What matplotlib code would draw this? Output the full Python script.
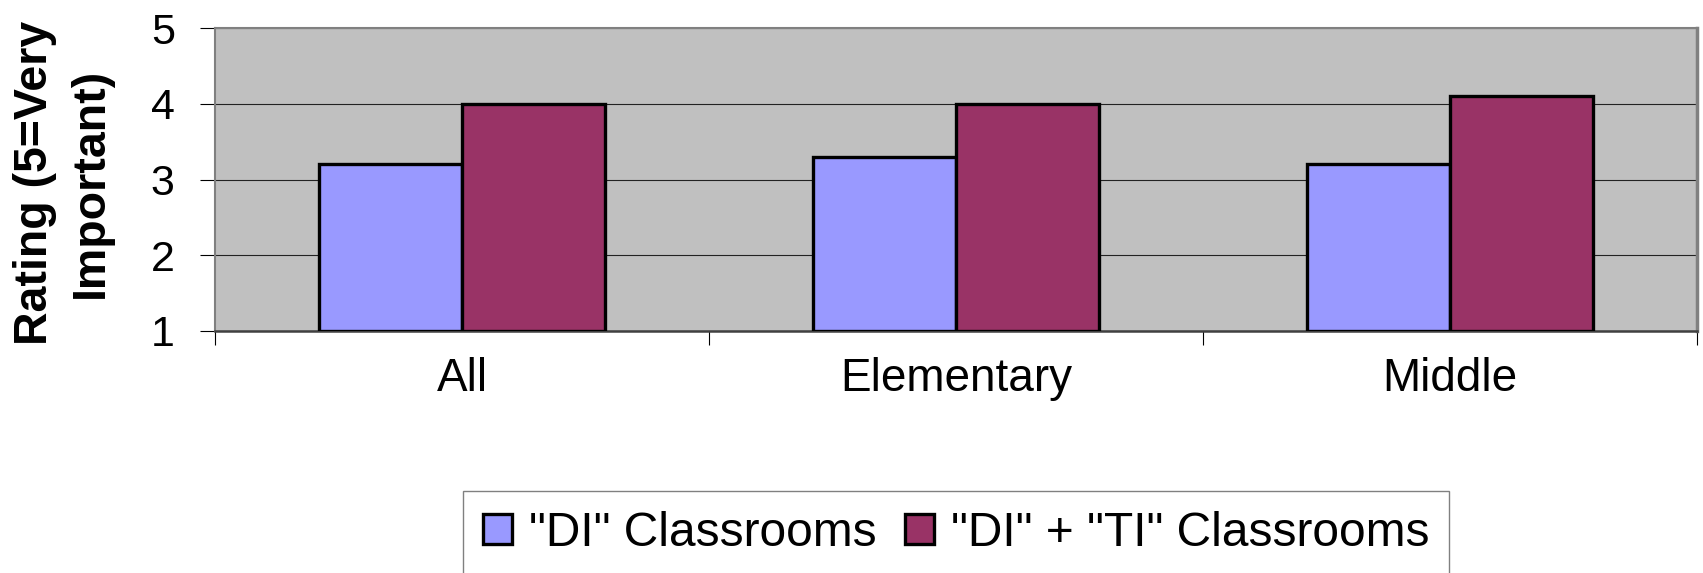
import matplotlib
matplotlib.use("Agg")
import matplotlib.pyplot as plt
import numpy as np

plt.rcParams['font.family'] = ['Liberation Sans', 'DejaVu Sans']

categories = ["All", "Elementary", "Middle"]
series_names = ['"DI" Classrooms', '"DI" + "TI" Classrooms']
di_values = [3.2, 3.3, 3.2]
di_ti_values = [4.0, 4.0, 4.1]
y_ticks = [1, 2, 3, 4, 5]

colors = ["#9999FF", "#993366"]

fig = plt.figure(figsize=(17.03, 5.73), dpi=100)
ax = fig.add_axes([215 / 1703, 1 - 331 / 573, 1482 / 1703, 303 / 573])
ax.set_facecolor("#C0C0C0")

x = np.arange(len(categories))
bw = 0.29
b1 = ax.bar(x - bw / 2, np.array(di_values) - 1, bw, bottom=1, color=colors[0],
            edgecolor="black", linewidth=2.4, zorder=3, label=series_names[0])
b2 = ax.bar(x + bw / 2, np.array(di_ti_values) - 1, bw, bottom=1, color=colors[1],
            edgecolor="black", linewidth=2.4, zorder=3, label=series_names[1])

ax.set_xlim(-0.5, len(categories) - 0.5)
ax.set_ylim(1, 5)

# y axis
ax.set_yticks(y_ticks)
ax.set_yticklabels([str(t) for t in y_ticks], fontsize=31)
ax.tick_params(axis="y", direction="out", length=11, width=0.8, color="black", pad=18)
ax.yaxis.grid(True, color="#222222", linewidth=0.8, zorder=1)
ax.set_axisbelow(True)

# x axis: boundary ticks as marks, category names at centres
ax.set_xticks(np.arange(len(categories) + 1) - 0.5)
ax.set_xticklabels([])
ax.tick_params(axis="x", which="major", direction="out", length=10, width=0.8, color="black")
ax.set_xticks(x, minor=True)
ax.set_xticklabels(categories, minor=True, fontsize=33)
ax.tick_params(axis="x", which="minor", length=0, pad=19)

for side in ("left", "top", "right"):
    ax.spines[side].set_color("#808080")
ax.spines["left"].set_linewidth(1.5)
ax.spines["top"].set_linewidth(1.5)
ax.spines["right"].set_linewidth(2.5)
ax.spines["bottom"].set_color("#404040")
ax.spines["bottom"].set_linewidth(1.8)

ax.set_ylabel("Rating (5=Very\nImportant)", fontsize=33.5, fontweight="bold",
              linespacing=1.37, va="center", ha="center")
ax.yaxis.set_label_coords((63 - 215) / 1482, 0.49)

leg = fig.legend(handles=[b1, b2], loc="upper left", ncol=2,
                 bbox_to_anchor=(463 / 1703, 1 - 491 / 573),
                 fontsize=34.5, frameon=True, fancybox=False, shadow=False,
                 handlelength=0.6, handleheight=0.6, handletextpad=0.35,
                 columnspacing=0.6, borderpad=0.42, borderaxespad=0)
leg.get_frame().set_edgecolor("#606060")
leg.get_frame().set_linewidth(1.0)

fig.savefig("out.png", dpi=100)
